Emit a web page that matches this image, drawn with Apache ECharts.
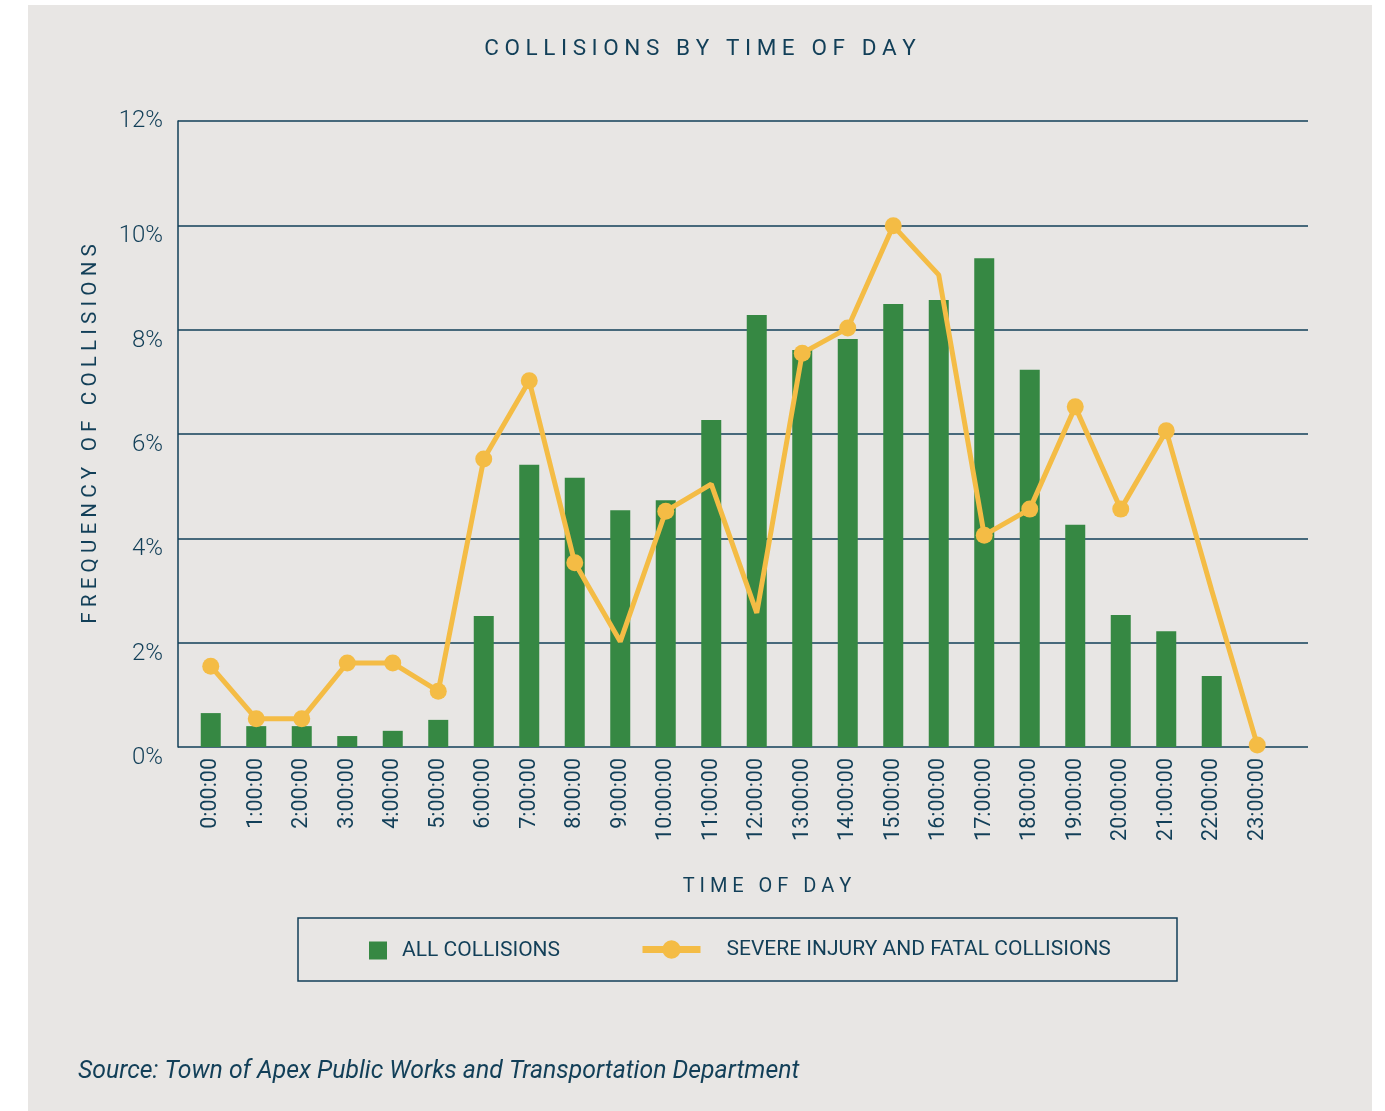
<!DOCTYPE html>
<html style="height: 100%">
<head>
  <meta charset="utf-8">
  <title>Collisions by time of day</title>
  <style type="text/css">
    body { margin: 0; background: #ffffff; }
    #container { width: 1385px; height: 1111px; }
  </style>
</head>
<body>
  <div id="container"></div>
  <script type="text/javascript" src="https://cdn.jsdelivr.net/npm/echarts@6/dist/echarts.min.js"></script>
  <script type="text/javascript">
    var hours = ['0:00:00', '1:00:00', '2:00:00', '3:00:00', '4:00:00', '5:00:00', '6:00:00', '7:00:00',
      '8:00:00', '9:00:00', '10:00:00', '11:00:00', '12:00:00', '13:00:00', '14:00:00', '15:00:00',
      '16:00:00', '17:00:00', '18:00:00', '19:00:00', '20:00:00', '21:00:00', '22:00:00', '23:00:00'];
    var allCollisions = [0.65, 0.40, 0.40, 0.21, 0.31, 0.52, 2.51, 5.41, 5.16, 4.54, 4.73, 6.27,
      8.28, 7.61, 7.82, 8.49, 8.57, 9.37, 7.23, 4.26, 2.53, 2.22, 1.36, 0];
    var severeCollisions = [1.55, 0.54, 0.54, 1.61, 1.61, 1.07, 5.52, 7.02, 3.53, 2.02, 4.52, 5.04,
      2.57, 7.55, 8.03, 9.99, 9.05, 4.06, 4.56, 6.52, 4.56, 6.06, 3.0, 0.04];
    // hours where the original chart draws a dot on the line
    var severeMarked = [1, 1, 1, 1, 1, 1, 1, 1, 1, 0, 1, 0, 0, 1, 1, 1, 0, 1, 1, 1, 1, 1, 0, 1];

    var NAVY = '#123f58';
    var GREEN = '#368843';
    var GOLD = '#f4bc45';

    function spaced(s) {
      return s.split('').join(' ');
    }

    var dom = document.getElementById('container');
    var chart = echarts.init(dom, null, { renderer: 'canvas' });

    var lineData = severeCollisions.map(function (v, i) {
      return severeMarked[i] ? v : { value: v, symbol: 'none' };
    });

    var option = {
      backgroundColor: '#ffffff',
      animation: false,
      graphic: [
        { type: 'rect', z: -10, shape: { x: 28, y: 5, width: 1344, height: 1106 }, style: { fill: '#e8e6e4' } },
        { type: 'rect', shape: { x: 298, y: 918, width: 879, height: 63 },
          style: { fill: 'none', stroke: NAVY, lineWidth: 1.5 } }
      ],
      title: [
        { text: spaced('COLLISIONS BY TIME OF DAY'), left: 700, top: 38, textAlign: 'center', padding: 0,
          textStyle: { color: NAVY, fontFamily: 'Roboto', fontSize: 22.5, fontWeight: 'normal' } },
        { text: spaced('TIME OF DAY'), left: 767, top: 877, textAlign: 'center', padding: 0,
          textStyle: { color: NAVY, fontFamily: 'Roboto', fontSize: 20, fontWeight: 'normal' } },
        { text: 'Source: Town of Apex Public Works and Transportation Department', left: 78, top: 1059, padding: 0,
          textStyle: { color: NAVY, fontFamily: 'Roboto', fontSize: 24.8, fontStyle: 'italic', fontWeight: 'normal' } }
      ],
      legend: [
        { data: ['ALL COLLISIONS'], left: 369, top: 940, padding: 0, icon: 'rect', itemWidth: 18, itemHeight: 18,
          textStyle: { color: NAVY, fontFamily: 'Roboto', fontSize: 21, padding: [0, 0, 0, 10] } },
        { data: ['SEVERE INJURY AND FATAL COLLISIONS'], left: 639, top: 939, padding: 0, itemWidth: 58, itemHeight: 23,
          lineStyle: { width: 7 },
          textStyle: { color: NAVY, fontFamily: 'Roboto', fontSize: 21, padding: [0, 0, 0, 21] } }
      ],
      grid: [
        { left: 178, right: 77, top: 121, bottom: 364 },
        { left: 188, width: 1092, top: 121, bottom: 364 }
      ],
      xAxis: [
        { gridIndex: 0, type: 'value', min: 0, max: 1, show: false },
        { gridIndex: 1, type: 'category', data: hours, boundaryGap: true,
          axisLine: { show: false }, axisTick: { show: false },
          axisLabel: { interval: 0, rotate: 90, margin: 11, color: NAVY, fontFamily: 'Roboto', fontSize: 21.5 } }
      ],
      yAxis: [
        { gridIndex: 0, type: 'value', min: 0, max: 12, interval: 2,
          name: spaced('FREQUENCY OF COLLISIONS'), nameLocation: 'middle', nameRotate: 90, nameGap: 77,
          nameTextStyle: { color: NAVY, fontFamily: 'Roboto', fontSize: 20.7 },
          axisLine: { show: true, lineStyle: { color: NAVY, width: 1.5 } },
          axisTick: { show: false },
          axisLabel: {
            margin: 15,
            formatter: function (v) { return v === 12 ? '{top|' + v + '%}' : '{low|' + v + '%}'; },
            rich: {
              top: { color: NAVY, fontFamily: 'Roboto', fontSize: 24, fontWeight: 300 },
              low: { color: NAVY, fontFamily: 'Roboto', fontSize: 24, fontWeight: 300, padding: [22, 0, 0, 0] }
            }
          },
          splitLine: { show: true, lineStyle: { color: NAVY, width: 1.5 } } },
        { gridIndex: 1, type: 'value', min: 0, max: 12, show: false, splitLine: { show: false } }
      ],
      series: [
        { name: 'ALL COLLISIONS', type: 'bar', xAxisIndex: 1, yAxisIndex: 1,
          barWidth: 20, itemStyle: { color: GREEN }, data: allCollisions },
        { name: 'SEVERE INJURY AND FATAL COLLISIONS', type: 'line', xAxisIndex: 1, yAxisIndex: 1,
          symbol: 'circle', symbolSize: 17, showAllSymbol: true,
          lineStyle: { color: GOLD, width: 5 }, itemStyle: { color: GOLD }, data: lineData }
      ]
    };

    chart.setOption(option);
  </script>
</body>
</html>
